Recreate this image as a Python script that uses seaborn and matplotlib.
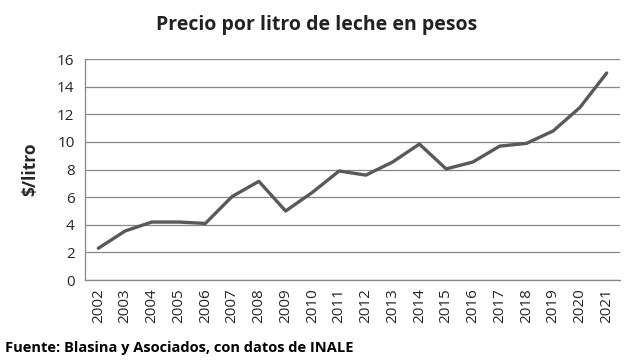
import numpy as np
import pandas as pd
import matplotlib
matplotlib.use('Agg')
import matplotlib.pyplot as plt
from matplotlib.ticker import FixedLocator
import seaborn as sns

years = list(range(2002, 2022))
precio = [2.3, 3.55, 4.2, 4.2, 4.1, 6.05, 7.15, 5.0, 6.35, 7.9,
          7.6, 8.55, 9.85, 8.05, 8.55, 9.7, 9.9, 10.8, 12.5, 15.0]

df = pd.DataFrame({'anio': years, 'precio': precio})
df['pos'] = np.arange(len(df))

sns.set_style('white')
plt.rcParams['font.family'] = ['Open Sans', 'DejaVu Sans']

fig = plt.figure(figsize=(6.34, 3.62), dpi=100)
ax = fig.add_axes([0.134, 0.2265, 0.844, 0.61])

sns.lineplot(data=df, x='pos', y='precio', ax=ax, color='#595959', linewidth=2.4)

ax.set_ylim(0, 16)
ax.set_yticks(range(0, 17, 2))
ax.set_xlim(-0.5, len(years) - 0.5)
ax.set_xticks(df['pos'])
ax.set_xticklabels(df['anio'], rotation=90, fontsize=11)
ax.xaxis.set_minor_locator(FixedLocator(np.arange(-0.5, len(years), 1)))
ax.tick_params(axis='x', which='major', length=0, pad=6)
ax.tick_params(axis='x', which='minor', length=4, color='#878787', width=0.8, direction='out')
ax.tick_params(axis='y', length=4, color='#878787', width=0.8, direction='out', labelsize=11)
ax.grid(axis='y', color='#878787', linewidth=0.9)
for s in ['top', 'right']:
    ax.spines[s].set_visible(False)
for s in ['left', 'bottom']:
    ax.spines[s].set_color('#878787')
    ax.spines[s].set_linewidth(0.9)

ax.set_xlabel('')
ax.set_ylabel('$/litro', fontsize=12.5, fontweight='bold', labelpad=13)

fig.text(0.5, 0.93, 'Precio por litro de leche en pesos', ha='center', va='center',
         fontsize=14, fontweight='bold', color='#222222')
fig.text(0.008, 0.038, 'Fuente: Blasina y Asociados, con datos de INALE', ha='left', va='center',
         fontsize=10.5, fontweight='bold', color='black')

fig.savefig('out.png', dpi=100)
